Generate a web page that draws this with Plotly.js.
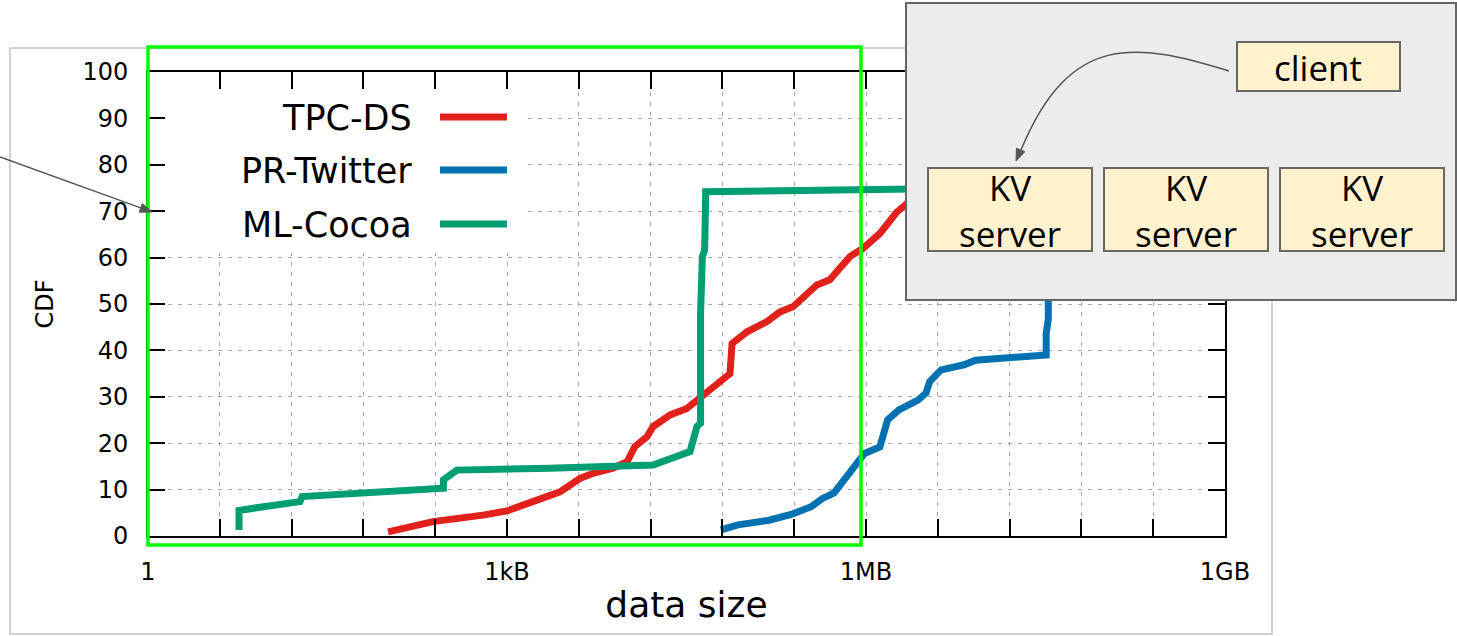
<!DOCTYPE html>
<html><head><meta charset="utf-8">
<script src="https://cdn.plot.ly/plotly-3.0.1.min.js"></script>
<style>html,body{margin:0;padding:0;background:#fff;} #chart{width:1457px;height:636px;}</style>
</head><body><div id="chart"></div>
<script>
// ---------- data ----------
const seriesNames  = ['TPC-DS', 'PR-Twitter', 'ML-Cocoa'];
const seriesColors = ['#e3211c', '#0072b2', '#009e73'];

// data size in bytes, CDF in percent
const tpcSize = [103, 245, 645, 1024, 1596, 2350, 2850, 4190, 5390, 7920, 10400, 12100, 15300, 17200,
                 23900, 33000, 42500, 59000, 75900, 79000, 105500, 155000, 199000, 256000, 322000,
                 406000, 521000, 633000, 768000, 990000, 1370000, 1900000, 2400000];
const tpcCdf  = [0.9, 3.1, 4.5, 5.4, 7.2, 8.8, 9.5, 12.4, 13.5, 14.6, 16.0, 19.3, 21.4, 23.6,
                 26.1, 27.5, 29.7, 32.5, 35.0, 41.5, 44.0, 46.2, 48.3, 49.4, 51.6,
                 54.1, 55.2, 58.0, 60.2, 62.0, 65.2, 69.8, 72.0];

const twitterSize = [63800, 88500, 161000, 251000, 363000, 453000, 566000, 700000, 881000, 1020000,
                     1370000, 1470000, 1590000, 1980000, 2860000, 3340000, 3590000, 4470000, 6970000,
                     8690000, 34000000, 34000000, 35400000, 35400000];
const twitterCdf  = [1.3, 2.4, 3.4, 4.7, 6.3, 8.1, 9.3, 12.4, 16.0, 17.8,
                     19.2, 22.1, 25.0, 27.2, 29.3, 30.8, 33.3, 35.8, 36.9,
                     37.9, 39.0, 43.7, 46.6, 53.0];

const cocoaSize = [5.8, 5.8, 8.7, 18.8, 19.6, 63.5, 300, 300, 388, 2350, 14100, 17200, 35100, 37100,
                   40100, 43000, 43000, 44500, 46500, 47500, 1370000, 2600000];
const cocoaCdf  = [1.3, 5.5, 6.2, 7.4, 8.5, 9.3, 10.3, 12.1, 14.2, 14.6, 14.9, 15.3, 18.2, 20.0,
                   23.6, 24.3, 48.0, 60.2, 61.6, 74.2, 74.6, 74.8];

const xTickVals = [1, 4, 16, 64, 256, 1024, 4096, 16384, 65536, 262144, 1048576, 4194304,
                   16777216, 67108864, 268435456, 1073741824];
const xTickText = ['1', '', '', '', '', '1kB', '', '', '', '', '1MB', '', '', '', '', '1GB'];
const xTitle = 'data size';
const yTitle = 'CDF';

const clientLabel = 'client';
const serverLabels = ['KV<br>server', 'KV<br>server', 'KV<br>server'];

// ---------- figure ----------
const W = 1457, H = 636;
const X = px => px / W;          // pixel -> paper (margins are 0)
const Y = py => 1 - py / H;

const xs = [tpcSize, twitterSize, cocoaSize];
const ys = [tpcCdf, twitterCdf, cocoaCdf];
const traces = seriesNames.map((n, i) => ({
  type: 'scatter', mode: 'lines', name: n, x: xs[i], y: ys[i],
  line: {color: seriesColors[i], width: 7}, hoverinfo: 'skip'
}));

function tri(tipX, tipY, fromX, fromY, len, half) {
  const dx = tipX - fromX, dy = tipY - fromY, d = Math.hypot(dx, dy);
  const ux = dx / d, uy = dy / d;
  const bx = tipX - ux * len, by = tipY - uy * len;
  const p1 = [bx - uy * half, by + ux * half], p2 = [bx + uy * half, by - ux * half];
  return {path: `M ${X(tipX)},${Y(tipY)} L ${X(p1[0])},${Y(p1[1])} L ${X(p2[0])},${Y(p2[1])} Z`,
          base: [bx, by]};
}

const shapes = [];
// page panel with soft edge
shapes.push({type: 'rect', xref: 'paper', yref: 'paper', x0: X(10), x1: X(1272), y0: Y(634), y1: Y(48),
  line: {color: '#d2d2d2', width: 2}, fillcolor: '#ffffff', layer: 'below'});
// opaque key box (covers the grid behind the key)
shapes.push({type: 'rect', xref: 'x', yref: 'y', x0: 1.03, x1: 1450, y0: 61, y1: 99.6,
  line: {width: 0}, fillcolor: '#ffffff', layer: 'between'});
// key samples
const keyY = [117, 170, 224];
seriesColors.forEach((c, i) => shapes.push({type: 'line', xref: 'paper', yref: 'paper',
  x0: X(440), x1: X(507), y0: Y(keyY[i]), y1: Y(keyY[i]), line: {color: c, width: 7}, layer: 'above'}));
// green highlight rectangle
shapes.push({type: 'rect', xref: 'paper', yref: 'paper', x0: X(148), x1: X(861), y0: Y(545), y1: Y(47),
  line: {color: '#00ff00', width: 3.5}, fillcolor: 'rgba(0,0,0,0)', layer: 'above'});
// left pointer arrow
const a1 = tri(152, 212, 0, 157, 12, 4.5);
shapes.push({type: 'line', xref: 'paper', yref: 'paper', x0: X(0), y0: Y(157), x1: X(a1.base[0]), y1: Y(a1.base[1]),
  line: {color: '#555555', width: 1.5}, layer: 'above'});
shapes.push({type: 'path', xref: 'paper', yref: 'paper', path: a1.path, fillcolor: '#555555',
  line: {color: '#555555', width: 1}, layer: 'above'});
// grey diagram box
shapes.push({type: 'rect', xref: 'paper', yref: 'paper', x0: X(906), x1: X(1456), y0: Y(300), y1: Y(3),
  line: {color: '#666666', width: 2}, fillcolor: '#ececec', layer: 'above'});
// client box
shapes.push({type: 'rect', xref: 'paper', yref: 'paper', x0: X(1237), x1: X(1400), y0: Y(91), y1: Y(42),
  line: {color: '#666666', width: 2}, fillcolor: '#fff2cc', layer: 'above'});
// server boxes
const srvX = [[928, 1092], [1104, 1268], [1280, 1444]];
srvX.forEach(s => shapes.push({type: 'rect', xref: 'paper', yref: 'paper', x0: X(s[0]), x1: X(s[1]),
  y0: Y(251), y1: Y(168), line: {color: '#666666', width: 2}, fillcolor: '#fff2cc', layer: 'above'}));
// curved arrow client -> server
shapes.push({type: 'path', xref: 'paper', yref: 'paper', layer: 'above',
  path: `M ${X(1229)},${Y(71)} C ${X(1135)},${Y(42)} ${X(1070)},${Y(32)} ${X(1021)},${Y(150)}`,
  line: {color: '#555555', width: 1.5}});
const a2 = tri(1016, 161, 1070, 32, 12, 4.5);
shapes.push({type: 'path', xref: 'paper', yref: 'paper', path: a2.path, fillcolor: '#555555',
  line: {color: '#555555', width: 1}, layer: 'above'});

const annotations = [];
seriesNames.forEach((n, i) => annotations.push({xref: 'paper', yref: 'paper', x: X(414), y: Y(keyY[i] + 1),
  xanchor: 'right', yanchor: 'middle', text: n, showarrow: false,
  font: {family: 'DejaVu Sans', size: 35, color: '#000'}}));
annotations.push({xref: 'paper', yref: 'paper', x: X(1318), y: Y(67), xanchor: 'center', yanchor: 'middle',
  text: clientLabel, showarrow: false, font: {family: 'Open Sans', size: 35, color: '#000'}});
srvX.forEach((s, i) => annotations.push({xref: 'paper', yref: 'paper', x: X((s[0] + s[1]) / 2), y: Y(210),
  xanchor: 'center', yanchor: 'middle', text: serverLabels[i], showarrow: false,
  font: {family: 'Open Sans', size: 35, color: '#000'}}));

const axCommon = {
  ticks: 'inside', ticklen: 17, tickwidth: 2, tickcolor: '#000',
  showline: true, linecolor: '#000', linewidth: 2, mirror: 'ticks',
  showgrid: true, gridcolor: '#a8a8a8', gridwidth: 1, griddash: '4px,6px',
  zeroline: false, automargin: false, fixedrange: true,
  tickfont: {family: 'DejaVu Sans', size: 24, color: '#000'}
};

const layout = {
  width: W, height: H, margin: {l: 0, r: 0, t: 0, b: 0},
  paper_bgcolor: '#ffffff', plot_bgcolor: 'rgba(0,0,0,0)', showlegend: false,
  font: {family: 'DejaVu Sans', color: '#000'},
  xaxis: Object.assign({}, axCommon, {
    type: 'log', domain: [148 / W, 1225 / W], range: [0, Math.log10(xTickVals[xTickVals.length - 1])],
    tickmode: 'array', tickvals: xTickVals, ticktext: xTickText, ticklabelstandoff: 13,
    title: {text: xTitle, font: {family: 'DejaVu Sans', size: 36, color: '#000'}, standoff: 7}
  }),
  yaxis: Object.assign({}, axCommon, {
    domain: [(H - 536) / H, (H - 72) / H], range: [0, 100], tick0: 0, dtick: 10, ticklabelstandoff: 13,
    title: {text: yTitle, font: {family: 'DejaVu Sans', size: 24, color: '#000'}, standoff: 22}
  }),
  shapes: shapes, annotations: annotations
};

Plotly.newPlot('chart', traces, layout, {displayModeBar: false, staticPlot: true});
</script></body></html>
